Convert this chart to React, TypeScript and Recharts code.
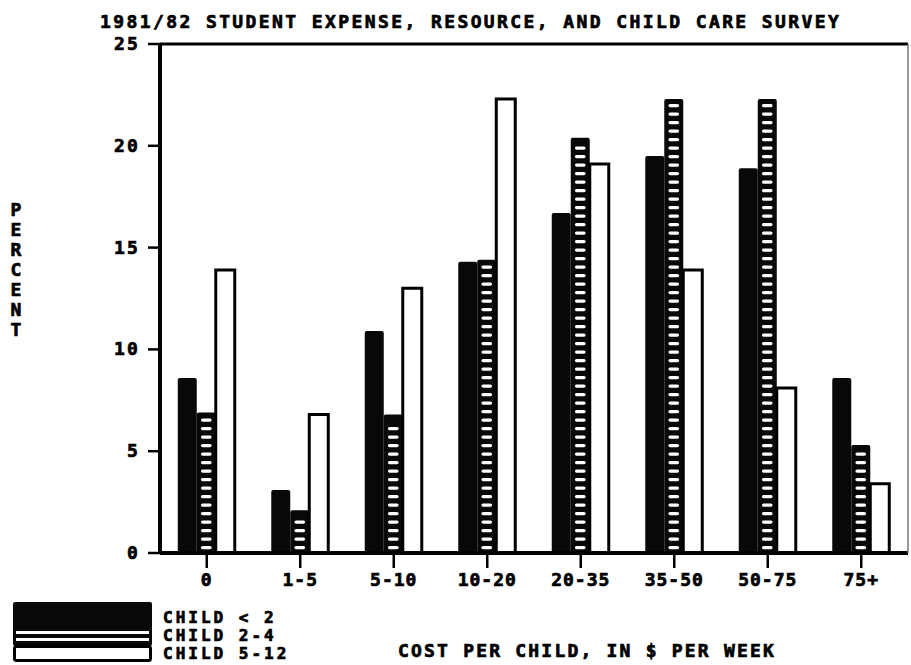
import { BarChart, Bar, XAxis, YAxis, Legend, ReferenceLine } from 'recharts'

const FONT = '"DejaVu Sans Mono", "Liberation Mono", monospace'

const categories = ['0', '1-5', '5-10', '10-20', '20-35', '35-50', '50-75', '75+']
const childUnder2 = [8.6, 3.1, 10.9, 14.3, 16.7, 19.5, 18.9, 8.6]
const child2to4 = [6.9, 2.1, 6.8, 14.4, 20.4, 22.3, 22.3, 5.3]
const child5to12 = [13.9, 6.8, 13.0, 22.3, 19.1, 13.9, 8.1, 3.4]
const yTicks = [0, 5, 10, 15, 20, 25]
const seriesNames = ['CHILD < 2', 'CHILD 2-4', 'CHILD 5-12']

const data = categories.map((cost, i) => ({
  cost,
  under2: childUnder2[i],
  age2to4: child2to4[i],
  age5to12: child5to12[i],
}))

const textStyle = {
  fontFamily: FONT,
  fontWeight: 'bold' as const,
  fontSize: 18,
  letterSpacing: 2.2,
  fill: '#000',
  stroke: '#000',
  strokeWidth: 0.7,
}

function SolidBar(props: any) {
  const { x, y, width, height } = props
  if (!height || height <= 0) return null
  return <rect x={x} y={y} width={width} height={height} rx={2} fill="#080808" />
}

// black bar with a ladder of white dashes, as on the old plotter output
function StripedBar(props: any) {
  const { x, y, width, height } = props
  if (!height || height <= 0) return null
  const dashes = []
  for (let yy = y + height - 7; yy > y + 4; yy -= 8.5) {
    dashes.push(
      <rect key={yy} x={x + width * 0.22} y={yy} width={width * 0.56} height={3.2} rx={1.6} fill="#fff" />,
    )
  }
  return (
    <g>
      <rect x={x} y={y} width={width} height={height} rx={2} fill="#080808" />
      {dashes}
    </g>
  )
}

function LegendBox() {
  const legendText = { ...textStyle, fontSize: 16, letterSpacing: 3 }
  return (
    <svg width={300} height={64}>
      <rect x={13} y={4} width={139} height={44} rx={2} fill="#080808" />
      <rect x={16} y={33} width={133} height={3} fill="#fff" />
      <rect x={16} y={40} width={133} height={3} fill="#fff" />
      <rect x={14.5} y={48.5} width={136} height={14} rx={2} fill="#fff" stroke="#000" strokeWidth={3} />
      <text x={163} y={25} style={legendText}>{seriesNames[0]}</text>
      <text x={163} y={43} style={legendText}>{seriesNames[1]}</text>
      <text x={163} y={61} style={legendText}>{seriesNames[2]}</text>
    </svg>
  )
}

function PercentLabel() {
  const letters = 'PERCENT'.split('')
  return (
    <text x={16} y={216} textAnchor="middle" style={{ ...textStyle, letterSpacing: 0 }}>
      {letters.map((ch, i) => (
        <tspan key={i} x={16} dy={i === 0 ? 0 : 20}>
          {ch}
        </tspan>
      ))}
    </text>
  )
}

function CostLabel() {
  return (
    <text x={587} y={657} textAnchor="middle" style={textStyle}>
      COST PER CHILD, IN $ PER WEEK
    </text>
  )
}

function YTick({ x, y, payload }: any) {
  return (
    <text x={x} y={y} dy={6} textAnchor="end" style={textStyle}>
      {payload.value}
    </text>
  )
}

function XTick({ x, y, payload }: any) {
  return (
    <text x={x} y={y} dy={14} textAnchor="middle" style={{ ...textStyle, letterSpacing: 1 }}>
      {payload.value}
    </text>
  )
}

export default function App() {
  return (
    <div style={{ position: 'absolute', left: 0, top: 0, width: 911, height: 665, background: '#fff' }}>
      <div
        style={{
          position: 'absolute',
          left: 100,
          top: 13,
          fontFamily: FONT,
          fontWeight: 'bold',
          fontSize: 18,
          letterSpacing: 2.4,
          lineHeight: 1,
          whiteSpace: 'nowrap',
          color: '#000',
          WebkitTextStroke: '0.7px #000',
        }}
      >
        1981/82 STUDENT EXPENSE, RESOURCE, AND CHILD CARE SURVEY
      </div>
      <BarChart
        width={911}
        height={665}
        data={data}
        margin={{ top: 44, right: 0, bottom: 0, left: 0 }}
        barCategoryGap="19%"
        barGap={0}
      >
        <XAxis
          dataKey="cost"
          height={112}
          interval={0}
          tickSize={15}
          tickMargin={4}
          axisLine={{ stroke: '#000', strokeWidth: 4 }}
          tickLine={{ stroke: '#000', strokeWidth: 2.5 }}
          tick={<XTick />}
          label={{ content: () => <CostLabel /> }}
        />
        <YAxis
          domain={[0, 25]}
          ticks={yTicks}
          width={160}
          tickSize={12}
          tickMargin={8}
          axisLine={{ stroke: '#000', strokeWidth: 4 }}
          tickLine={{ stroke: '#000', strokeWidth: 2.5 }}
          tick={<YTick />}
          label={{ content: () => <PercentLabel /> }}
        />
        <YAxis
          yAxisId="frame"
          orientation="right"
          domain={[0, 25]}
          width={3}
          tick={false}
          tickLine={false}
          axisLine={{ stroke: '#777', strokeWidth: 1.5 }}
        />
        <ReferenceLine y={25} stroke="#000" strokeWidth={3} />
        <Legend
          layout="horizontal"
          verticalAlign="middle"
          align="center"
          wrapperStyle={{ left: 0, top: 598, width: 300, height: 64 }}
          content={() => <LegendBox />}
        />
        <Bar dataKey="under2" name={seriesNames[0]} fill="#080808" shape={(p: any) => <SolidBar {...p} />} isAnimationActive={false} />
        <Bar dataKey="age2to4" name={seriesNames[1]} fill="#080808" shape={(p: any) => <StripedBar {...p} />} isAnimationActive={false} />
        <Bar
          dataKey="age5to12"
          name={seriesNames[2]}
          fill="#fff"
          stroke="#000"
          strokeWidth={3}
          isAnimationActive={false}
        />
      </BarChart>
    </div>
  )
}
